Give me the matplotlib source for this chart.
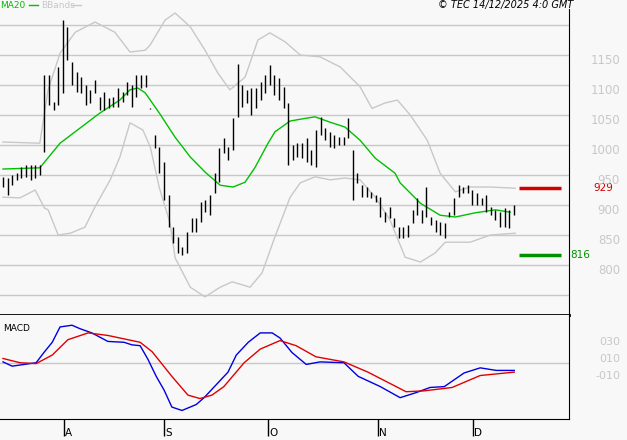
import matplotlib
matplotlib.use("Agg")
import matplotlib.pyplot as plt

# daily bars (high, low)
highs = [947, 945, 950, 953, 963, 967, 967, 967, 967, 1117, 1117, 1072, 1130, 1208, 1197, 1138,
         1122, 1113, 1100, 1092, 1108, 1080, 1088, 1078, 1080, 1095, 1088, 1105, 1100, 1117, 1117,
         1117, 1062, 1017, 997, 972, 917, 863, 847, 830, 855, 878, 878, 905, 908, 917, 953, 995,
         1012, 997, 1045, 1135, 1100, 1092, 1095, 1095, 1105, 1117, 1133, 1117, 1111, 1097, 1070,
         1000, 1003, 1003, 1012, 992, 1025, 1047, 1028, 1022, 1017, 1013, 1013, 1045, 992, 953,
         933, 930, 922, 917, 913, 888, 897, 878, 863, 863, 867, 892, 912, 892, 930, 880, 875, 872,
         870, 888, 912, 933, 930, 933, 925, 920, 912, 917, 897, 892, 888, 895, 892, 900]
lows = [930, 917, 933, 942, 945, 947, 942, 945, 950, 988, 1067, 1058, 1067, 1087, 1142, 1100,
        1088, 1087, 1067, 1070, 1087, 1058, 1058, 1062, 1063, 1063, 1072, 1083, 1063, 1080, 1095,
        1097, 1060, 995, 953, 908, 863, 837, 820, 817, 820, 855, 855, 872, 888, 883, 920, 938,
        987, 975, 992, 1047, 1063, 1070, 1050, 1062, 1075, 1087, 1100, 1083, 1075, 1062, 967,
        975, 980, 978, 972, 967, 963, 1017, 1008, 997, 995, 1000, 1000, 1012, 908, 937, 913,
        913, 912, 905, 880, 872, 878, 863, 845, 845, 847, 870, 883, 870, 880, 867, 855, 850, 845,
        880, 883, 913, 920, 920, 900, 900, 900, 888, 883, 875, 863, 863, 862, 883]

ma_x = [0, 8, 12.4, 16.7, 21, 25.4, 27.6, 29.3, 30.9, 34, 37.4, 40.7, 43.9, 47.2, 50, 52.6,
        54.8, 57.6, 59.1, 62.4, 64.6, 67.8, 71.1, 74.3, 77.6, 80.9, 85.2, 86.3, 90.7, 95, 98.3,
        102.6, 107, 110.2]
ma20 = [960, 962, 1003, 1028, 1053, 1075, 1092, 1095, 1087, 1053, 1013, 980, 955, 933, 930, 938,
        963, 1003, 1022, 1040, 1043, 1047, 1038, 1030, 1008, 978, 953, 937, 903, 883, 880,
        887, 892, 888]

up_x = [0, 8, 9.8, 12.4, 15.7, 20, 24.3, 27.6, 30.9, 32, 35.2, 37.4, 40.7, 43.9, 46.7, 49.3,
        52.6, 55.4, 58, 61.3, 64.6, 68.9, 73.3, 77.6, 80.2, 83, 85.7, 88.5, 92.2, 95, 98.3,
        101.5, 105.9, 111.3]
bb_upper = [1005, 1003, 1092, 1153, 1188, 1205, 1188, 1155, 1158, 1167, 1208, 1220, 1197, 1158,
            1120, 1092, 1113, 1175, 1187, 1172, 1150, 1147, 1130, 1097, 1061, 1070, 1075, 1050,
            1008, 953, 922, 930, 930, 928]
lo_x = [0, 3.7, 7, 9, 9.8, 12, 14.6, 17.8, 20, 23.3, 25.4, 27.6, 30.4, 32, 34, 36.3, 37.4,
        40.7, 43.9, 47.2, 49.8, 53.7, 56.3, 59.1, 62.4, 64.6, 67.8, 71.1, 74.3, 77.6, 80.9,
        84.1, 87.4, 90.7, 93.9, 96.1, 101.5, 105.9, 111.3]
bb_lower = [913, 912, 925, 895, 892, 850, 853, 863, 897, 942, 980, 1037, 1025, 997, 928, 870,
            812, 763, 747, 763, 772, 763, 787, 847, 913, 937, 947, 942, 945, 942, 913, 875,
            813, 805, 820, 838, 838, 850, 853]

macd_x = [0, 2, 4.6, 7.2, 8.9, 10.7, 12.4, 15, 16.7, 19.3, 22.8, 26.3, 28, 29.8, 31.5, 33.3,
          35, 36.7, 38.9, 42, 43.7, 46.3, 48.9, 50.7, 53.3, 55.9, 58.5, 60.2, 62.8, 65.9, 68.9,
          74.1, 77.2, 82, 86.3, 89.8, 92.8, 95.9, 100.2, 103.7, 107.2, 111.1]
macd = [1, -4, -2, 0, 12, 24, 42, 44, 40, 35, 25, 24, 21, 20, 4, -16, -32, -52, -56, -49, -41,
        -26, -11, 9, 24, 35, 35, 29, 12, -2, 1, 0, -16, -28, -41, -35, -29, -28, -12, -6, -9, -9]
sig_x = [0, 3.7, 7.2, 10.7, 14.1, 18.5, 22.8, 29.8, 32.4, 36.7, 40.2, 42.8, 45.4, 48, 52.4,
         55.9, 60.2, 63.7, 68, 74.1, 79.3, 87.6, 91.5, 97.6, 103.7, 111.1]
signal = [5, 0, -1, 9, 27, 35, 32, 24, 13, -16, -38, -42, -38, -28, 0, 16, 26, 20, 7, 1, -11,
          -34, -33, -29, -15, -11]

resistance, support = 929, 816
month_pos = [13.3, 35, 57.6, 81.5, 102.2]
month_lab = ["A", "S", "O", "N", "D"]
grid_levels = list(range(750, 1201, 50))
price_labels = [1150, 1100, 1050, 1000, 950, 900, 850, 800]
macd_labels = [(30, "030"), (10, "010"), (-10, "-010")]

bg = "#f8f8f8"
grey = "#c8c8c8"
fig = plt.figure(figsize=(6.27, 4.40), dpi=100, facecolor=bg)
W, H = 627, 440
ax = fig.add_axes([0, 1 - 315 / H, 569 / W, 306 / H], facecolor=bg)
am = fig.add_axes([0, 1 - 419 / H, 569 / W, 104 / H], facecolor=bg, sharex=ax)

x0, x1 = -0.65, 123.0
ax.set_xlim(x0, x1)
ax.set_ylim(716.7, 1226.7)
am.set_ylim(-66, 56)

for lv in grid_levels:
    ax.axhline(lv, color=grey, lw=1, zorder=0)
xs = list(range(len(highs)))
ax.vlines(xs, lows, highs, color="black", lw=1.0, zorder=3)
ax.plot(up_x, bb_upper, color=grey, lw=1)
ax.plot(lo_x, bb_lower, color=grey, lw=1)
ax.plot(ma_x, ma20, color="#00c000", lw=1)
ax.hlines(resistance, 112.2, 121.3, color="#d00000", lw=2.5)
ax.hlines(support, 112.2, 121.3, color="#009000", lw=2.5)
ax.annotate(str(resistance), (1, resistance), xycoords=("axes fraction", "data"),
            xytext=(24, 0), textcoords="offset pixels", color="#d00000", fontsize=7.5, va="center")
ax.annotate(str(support), (1, support), xycoords=("axes fraction", "data"),
            xytext=(1, 0), textcoords="offset pixels", color="#009000", fontsize=7.5, va="center")
for v in price_labels:
    ax.annotate(str(v), (1, v), xycoords=("axes fraction", "data"), xytext=(51, -5),
                textcoords="offset pixels", color=grey, fontsize=8.5, ha="right", va="center",
                annotation_clip=False)

for s in ["left", "top"]:
    ax.spines[s].set_visible(False)
ax.spines["right"].set_color("black")
ax.spines["bottom"].set_color("black")
ax.spines["bottom"].set_linewidth(2)
ax.set_xticks([])
ax.set_yticks([])

am.axhline(0, color=grey, lw=1, zorder=0)
am.plot(macd_x, macd, color="#0000e0", lw=1)
am.plot(sig_x, signal, color="#e00000", lw=1)
for s in ["left", "top"]:
    am.spines[s].set_visible(False)
am.set_yticks([])
am.set_xticks(month_pos)
am.set_xticklabels([])
am.tick_params(axis="x", direction="out", length=12, width=1)
for p, lab in zip(month_pos, month_lab):
    am.annotate(lab, (p, 0), xycoords=("data", "axes fraction"), xytext=(1, -19),
                textcoords="offset pixels", fontsize=7.5, ha="left", va="bottom",
                annotation_clip=False)
for v, lab in macd_labels:
    am.annotate(lab, (1, v), xycoords=("axes fraction", "data"), xytext=(51, -5),
                textcoords="offset pixels", color=grey, fontsize=8, ha="right", va="center",
                annotation_clip=False)
am.text(0.005, 0.87, "MACD", transform=am.transAxes, fontsize=6.5, va="center")

fig.text(0, 1 - 5 / H, "MA20", color="#00c000", fontsize=6.5, va="center")
fig.add_artist(plt.Line2D([29 / W, 38 / W], [1 - 5 / H] * 2, color="#00c000", lw=1))
fig.text(41 / W, 1 - 5 / H, "BBands", color=grey, fontsize=6.5, va="center")
fig.add_artist(plt.Line2D([71 / W, 81 / W], [1 - 5 / H] * 2, color=grey, lw=1))
fig.text(573 / W, 1 - 5 / H, "© TEC 14/12/2025 4:0 GMT", fontsize=7, style="italic",
         ha="right", va="center")

fig.savefig("out.png", dpi=100, facecolor=bg)
